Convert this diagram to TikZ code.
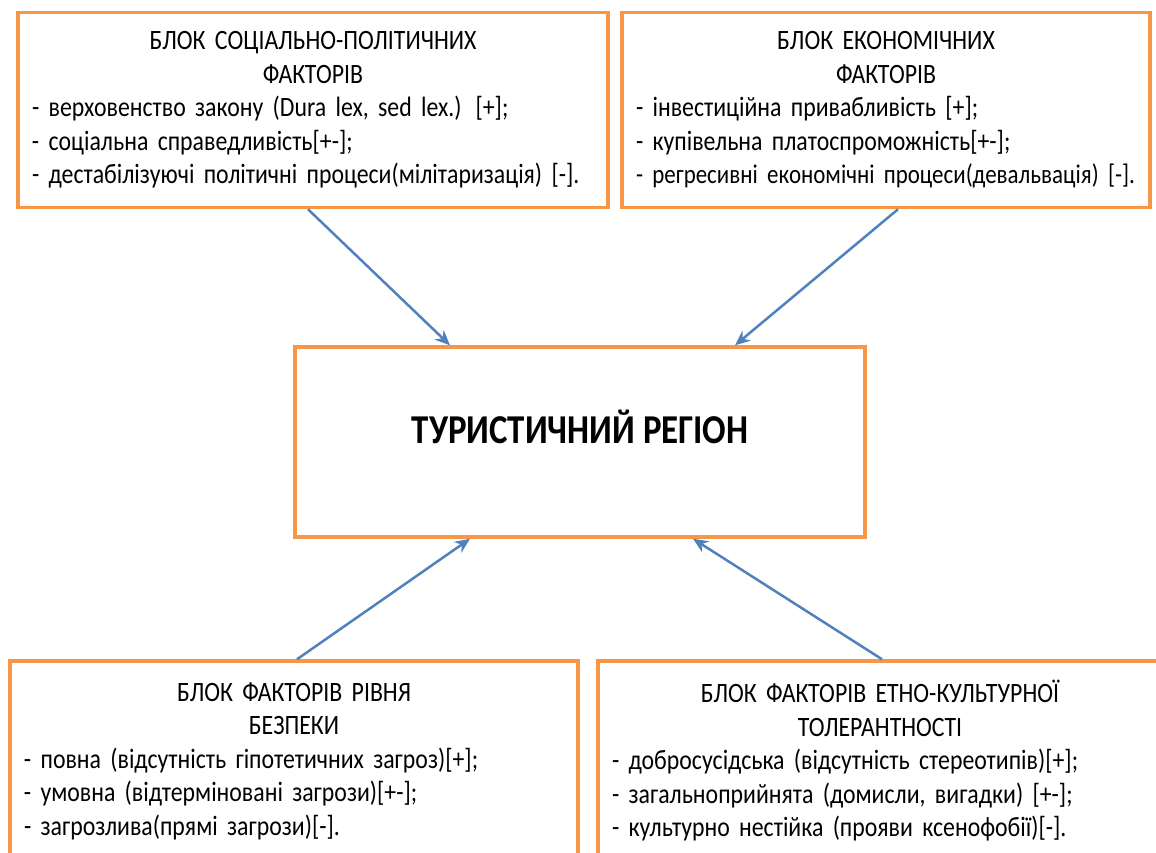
\documentclass[tikz,border=0pt]{standalone}
\usepackage{fontspec}
\setmainfont{Carlito}
\newfontfamily\blockfont[FakeStretch=0.85]{Carlito}
\newcommand\blocktext{\blockfont\fontsize{28}{33.5}\selectfont\spaceskip=5pt plus 2pt minus 1pt\relax}
\newcommand\regiontext{\blockfont\bfseries\fontsize{41}{46}\selectfont\spaceskip=8pt\relax}
\usetikzlibrary{positioning,arrows.meta}
\definecolor{boxorange}{HTML}{F79646}
\definecolor{linkblue}{HTML}{4F81BD}
\tikzset{block/.style={
        draw=boxorange, 
        line width=3.5pt, 
        rectangle, 
        align=left, 
        inner xsep=14pt, 
        inner ysep=0pt, 
        font=\blocktext } }
\tikzset{region/.style={
        draw=boxorange, 
        line width=3.5pt, 
        rectangle, 
        minimum width=570pt, 
        minimum height=190pt, 
        text depth=30pt, 
        font=\regiontext } }
\tikzset{link/.style={ -{Stealth[length=15pt,width=13pt]}, draw=linkblue, line width=2.5pt } }

\begin{document}
\begin{tikzpicture}[x=1pt,y=-1pt]

\useasboundingbox (0,0) rectangle (1156,852);
\clip (0,0) rectangle (1156,852);

%%CENTRE
\node[region] (region) at (580,442) {ТУРИСТИЧНИЙ РЕГІОН};

%%UPPER BLOCKS
\node[block, text width=562pt, minimum height=195pt] (social) at (313,110) 
{{\centering БЛОК СОЦІАЛЬНО-ПОЛІТИЧНИХ\\ФАКТОРІВ\par}
- верховенство закону (Dura lex, sed lex.) [+];\\
- соціальна справедливість[+-];\\
- дестабілізуючі політичні процеси(мілітаризація) [-].};
\node[block, text width=500pt, minimum height=195pt] (econ) at (886,110) 
{{\centering БЛОК ЕКОНОМІЧНИХ\\ФАКТОРІВ\par}
- інвестиційна привабливість [+];\\
- купівельна платоспроможність[+-];\\
\mbox{\fontsize{27}{33.5}\selectfont - регресивні економічні процеси(девальвація) [-].}};

%%LOWER BLOCKS (cut by the page)
\node[block, text width=540pt, minimum height=200pt] (safety) at (294,761) 
{{\centering БЛОК ФАКТОРІВ РІВНЯ\\БЕЗПЕКИ\par}
- повна (відсутність гіпотетичних загроз)[+];\\
- умовна (відтерміновані загрози)[+-];\\
- загрозлива(прямі загрози)[-].};
\node[block, text width=536pt, minimum height=200pt] (ethno) at (880,761) 
{{\centering БЛОК ФАКТОРІВ ЕТНО-КУЛЬТУРНОЇ\\ТОЛЕРАНТНОСТІ\par}
- добросусідська (відсутність стереотипів)[+];\\
- загальноприйнята  (домисли, вигадки) [+-];\\
- культурно нестійка (прояви ксенофобії)[-].};

\draw[link] ([xshift=-5pt]social.south) -- ([xshift=-130pt]region.north);
\draw[link] ([xshift=12pt]econ.south) -- ([xshift=155pt]region.north);
\draw[link] ([xshift=3pt]safety.north) -- ([xshift=-110pt]region.south);
\draw[link] ([xshift=2pt]ethno.north) -- ([xshift=113pt]region.south);

\end{tikzpicture}
\end{document}
